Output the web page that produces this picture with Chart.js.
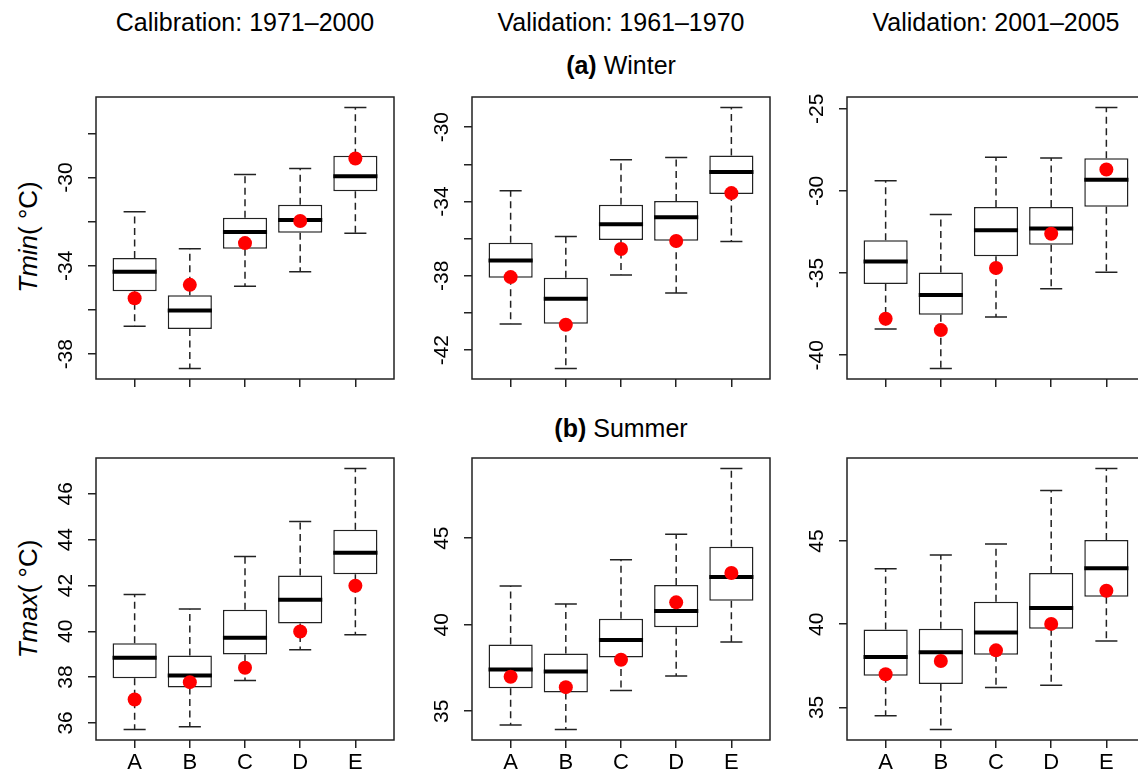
<!DOCTYPE html>
<html>
<head>
<meta charset="utf-8">
<script src="https://cdn.jsdelivr.net/npm/chart.js@4"></script>
<style>
html,body{margin:0;padding:0;background:#fff;overflow:hidden;}
#page{position:relative;width:1138px;height:773px;overflow:hidden;background:#fff;font-family:"Liberation Sans",Arial,Helvetica,sans-serif;color:#000;}
.t{position:absolute;white-space:nowrap;font-size:25px;line-height:1;transform:translate(-50%,-50%);}
.yt{position:absolute;white-space:nowrap;font-size:26px;line-height:1;transform:translate(-50%,-50%) rotate(-90deg);}
canvas{position:absolute;}
</style>
</head>
<body>
<div id="page">
  <div class="t" style="left:245px;top:22px">Calibration: 1971–2000</div>
  <div class="t" style="left:621px;top:22px">Validation: 1961–1970</div>
  <div class="t" style="left:996px;top:22px">Validation: 2001–2005</div>
  <div class="t" style="left:621px;top:65px"><b>(a)</b> Winter</div>
  <div class="t" style="left:621px;top:428px"><b>(b)</b> Summer</div>
  <div class="yt" style="left:28px;top:237px"><i>Tmin</i>( °C)</div>
  <div class="yt" style="left:28px;top:599px"><i>Tmax</i>( °C)</div>
</div>
<script>
// ---------- DATA ----------
const categories = ['A', 'B', 'C', 'D', 'E'];

// (a) Winter Tmin — Calibration 1971–2000
const winCalLo  = [-36.74, -38.65, -34.92, -34.27, -32.53];
const winCalQ1  = [-35.15, -36.86, -33.23, -32.50, -30.62];
const winCalMed = [-34.27, -36.02, -32.47, -31.92, -29.94];
const winCalQ3  = [-33.64, -35.33, -31.82, -31.24, -29.02];
const winCalHi  = [-31.55, -33.23, -29.86, -29.59, -26.83];
const winCalObs = [-35.47, -34.86, -32.97, -31.97, -29.14];
const winCalTicks  = [-38, -36, -34, -32, -30, -28];
const winCalLabels = ['-38', '', '-34', '', '-30', ''];

// (a) Winter Tmin — Validation 1961–1970
const winV1Lo  = [-40.59, -42.99, -37.96, -38.92, -36.16];
const winV1Q1  = [-38.11, -40.58, -36.07, -36.11, -33.60];
const winV1Med = [-37.17, -39.24, -35.23, -34.85, -32.41];
const winV1Q3  = [-36.22, -38.11, -34.18, -33.98, -31.53];
const winV1Hi  = [-33.42, -35.89, -31.75, -31.64, -28.94];
const winV1Obs = [-38.07, -40.63, -36.56, -36.13, -33.55];
const winV1Ticks  = [-42, -40, -38, -36, -34, -32, -30];
const winV1Labels = ['-42', '', '-38', '', '-34', '', '-30'];

// (a) Winter Tmin — Validation 2001–2005
const winV2Lo  = [-38.41, -40.81, -37.68, -35.95, -34.95];
const winV2Q1  = [-35.67, -37.54, -33.98, -33.28, -30.96];
const winV2Med = [-34.30, -36.34, -32.39, -32.29, -29.32];
const winV2Q3  = [-33.00, -34.97, -30.98, -30.98, -28.01];
const winV2Hi  = [-29.38, -31.43, -27.95, -27.99, -24.92];
const winV2Obs = [-37.78, -38.47, -34.69, -32.61, -28.70];
const winV2Ticks  = [-40, -35, -30, -25];
const winV2Labels = ['-40', '-35', '-30', '-25'];

// (b) Summer Tmax — Calibration 1971–2000
const sumCalLo  = [35.71, 35.83, 37.85, 39.19, 39.85];
const sumCalQ1  = [37.95, 37.55, 38.99, 40.34, 42.49];
const sumCalMed = [38.84, 38.07, 39.72, 41.38, 43.43];
const sumCalQ3  = [39.48, 38.94, 40.94, 42.44, 44.43];
const sumCalHi  = [41.61, 40.97, 43.27, 44.79, 47.11];
const sumCalObs = [37.02, 37.78, 38.41, 39.99, 41.99];
const sumCalTicks  = [36, 38, 40, 42, 44, 46];
const sumCalLabels = ['36', '38', '40', '42', '44', '46'];

// (b) Summer Tmax — Validation 1961–1970
const sumV1Lo  = [34.21, 33.94, 36.20, 37.03, 39.00];
const sumV1Q1  = [36.33, 36.08, 38.11, 39.85, 41.39];
const sumV1Med = [37.41, 37.30, 39.11, 40.79, 42.76];
const sumV1Q3  = [38.86, 38.34, 40.35, 42.30, 44.50];
const sumV1Hi  = [42.24, 41.20, 43.75, 45.23, 49.03];
const sumV1Obs = [36.99, 36.39, 37.97, 41.29, 42.99];
const sumV1Ticks  = [35, 40, 45];
const sumV1Labels = ['35', '40', '45'];

// (b) Summer Tmax — Validation 2001–2005
const sumV2Lo  = [34.50, 33.67, 36.20, 36.33, 38.99];
const sumV2Q1  = [36.91, 36.41, 38.17, 39.72, 41.65];
const sumV2Med = [38.03, 38.31, 39.50, 40.98, 43.37];
const sumV2Q3  = [39.68, 39.72, 41.35, 43.07, 45.06];
const sumV2Hi  = [43.33, 44.16, 44.82, 48.03, 49.36];
const sumV2Obs = [36.99, 37.79, 38.43, 40.02, 42.01];
const sumV2Ticks  = [35, 40, 45];
const sumV2Labels = ['35', '40', '45'];

// ---------- LAYOUT ----------
const PLOT_W = 298, PLOT_H = 282, M_LEFT = 50, M_TOP = 10, M_RIGHT = 10, M_BOTTOM = 35;
const FONT = '"Liberation Sans", Arial, Helvetica, sans-serif';

const panels = [
  {left: 96,  top: 97,  lo: winCalLo, q1: winCalQ1, med: winCalMed, q3: winCalQ3, hi: winCalHi, obs: winCalObs, ticks: winCalTicks, labels: winCalLabels, showX: false},
  {left: 472, top: 97,  lo: winV1Lo,  q1: winV1Q1,  med: winV1Med,  q3: winV1Q3,  hi: winV1Hi,  obs: winV1Obs,  ticks: winV1Ticks,  labels: winV1Labels,  showX: false},
  {left: 847, top: 97,  lo: winV2Lo,  q1: winV2Q1,  med: winV2Med,  q3: winV2Q3,  hi: winV2Hi,  obs: winV2Obs,  ticks: winV2Ticks,  labels: winV2Labels,  showX: false},
  {left: 96,  top: 458, lo: sumCalLo, q1: sumCalQ1, med: sumCalMed, q3: sumCalQ3, hi: sumCalHi, obs: sumCalObs, ticks: sumCalTicks, labels: sumCalLabels, showX: true},
  {left: 472, top: 458, lo: sumV1Lo,  q1: sumV1Q1,  med: sumV1Med,  q3: sumV1Q3,  hi: sumV1Hi,  obs: sumV1Obs,  ticks: sumV1Ticks,  labels: sumV1Labels,  showX: true},
  {left: 847, top: 458, lo: sumV2Lo,  q1: sumV2Q1,  med: sumV2Med,  q3: sumV2Q3,  hi: sumV2Hi,  obs: sumV2Obs,  ticks: sumV2Ticks,  labels: sumV2Labels,  showX: true}
];

// Draws rotated y tick labels (R style) and the plot frame
const frameAndYLabels = {
  id: 'frameAndYLabels',
  afterDraw(chart, args, opts) {
    const ctx = chart.ctx, a = chart.chartArea, ys = chart.scales.y;
    ctx.save();
    ctx.fillStyle = '#000';
    ctx.font = '21px ' + FONT;
    ctx.textAlign = 'center';
    ctx.textBaseline = 'middle';
    opts.values.forEach((v, i) => {
      const lab = opts.labels[i];
      if (!lab) return;
      const y = ys.getPixelForValue(v);
      ctx.save();
      ctx.translate(a.left - 30, y);
      ctx.rotate(-Math.PI / 2);
      ctx.fillText(lab, 0, 0);
      ctx.restore();
    });
    ctx.strokeStyle = '#222';
    ctx.lineWidth = 1.5;
    ctx.strokeRect(a.left, a.top, a.right - a.left, a.bottom - a.top);
    ctx.restore();
  }
};

const page = document.getElementById('page');

function makePanel(p) {
  const W = M_LEFT + PLOT_W + M_RIGHT, H = M_TOP + PLOT_H + M_BOTTOM;
  const cv = document.createElement('canvas');
  cv.width = W; cv.height = H;
  cv.style.width = W + 'px'; cv.style.height = H + 'px';
  cv.style.left = (p.left - M_LEFT) + 'px';
  cv.style.top = (p.top - M_TOP) + 'px';
  page.appendChild(cv);

  const xs = categories.map((c, i) => i + 1);
  const boxes = xs.map((x, i) => ({x: x, y: [p.q1[i], p.q3[i]]}));
  const whiskers = [], caps = [], medians = [];
  xs.forEach((x, i) => {
    whiskers.push({x: x, y: p.q3[i]}, {x: x, y: p.hi[i]}, {x: x, y: null},
                  {x: x, y: p.q1[i]}, {x: x, y: p.lo[i]}, {x: x, y: null});
    caps.push({x: x - 0.2, y: p.hi[i]}, {x: x + 0.2, y: p.hi[i]}, {x: x + 0.2, y: null},
              {x: x - 0.2, y: p.lo[i]}, {x: x + 0.2, y: p.lo[i]}, {x: x + 0.2, y: null});
    medians.push({x: x - 0.4, y: p.med[i]}, {x: x + 0.4, y: p.med[i]}, {x: x + 0.4, y: null});
  });
  const obs = xs.map((x, i) => ({x: x, y: p.obs[i]}));

  // R-style axis limits: data range extended by 4 %
  const dmin = Math.min(...p.lo, ...p.obs), dmax = Math.max(...p.hi, ...p.obs);
  const ext = (dmax - dmin) * 0.04;

  const gridX = {display: true, offset: false, drawOnChartArea: false, drawTicks: true, tickLength: 8, color: '#222', lineWidth: 1.5};
  const gridY = {display: true, drawOnChartArea: false, drawTicks: true, tickLength: 8, color: '#222', lineWidth: 1.5};

  new Chart(cv, {
    type: 'bar',
    data: {
      datasets: [
        {type: 'scatter', data: obs, pointRadius: 7, pointHoverRadius: 7, backgroundColor: '#ff0000', borderWidth: 0, order: 0},
        {type: 'line', data: medians, borderColor: '#000', borderWidth: 4, pointRadius: 0, spanGaps: false, fill: false, order: 1},
        {type: 'bar', data: boxes, backgroundColor: '#fff', borderColor: '#222', borderWidth: 1.5, borderSkipped: false, barPercentage: 0.8, categoryPercentage: 1.0, order: 2},
        {type: 'line', data: whiskers, borderColor: '#222', borderWidth: 1.5, borderDash: [7, 4.5], pointRadius: 0, spanGaps: false, fill: false, order: 3},
        {type: 'line', data: caps, borderColor: '#222', borderWidth: 1.5, pointRadius: 0, spanGaps: false, fill: false, order: 3}
      ]
    },
    options: {
      responsive: false,
      animation: false,
      events: [],
      layout: {padding: {left: 0, top: M_TOP, right: M_RIGHT, bottom: 0}},
      plugins: {
        legend: {display: false},
        tooltip: {enabled: false},
        frameAndYLabels: {values: p.ticks, labels: p.labels}
      },
      scales: {
        x: {
          type: 'linear', min: 0.3, max: 5.7, bounds: 'data', offset: false,
          afterBuildTicks: s => { s.ticks = xs.map(v => ({value: v})); },
          afterFit: s => { s.height = M_BOTTOM; },
          grid: gridX,
          border: {display: false},
          ticks: {display: p.showX, autoSkip: false, maxRotation: 0, minRotation: 0, padding: 2,
                  color: '#000', font: {family: FONT, size: 22},
                  callback: v => categories[v - 1]}
        },
        y: {
          type: 'linear', min: dmin - ext, max: dmax + ext, bounds: 'data',
          afterBuildTicks: s => { s.ticks = p.ticks.map(v => ({value: v})); },
          afterFit: s => { s.width = M_LEFT; },
          grid: gridY,
          border: {display: false},
          ticks: {display: false}
        }
      }
    },
    plugins: [frameAndYLabels]
  });
}

panels.forEach(makePanel);
</script>
</body>
</html>
